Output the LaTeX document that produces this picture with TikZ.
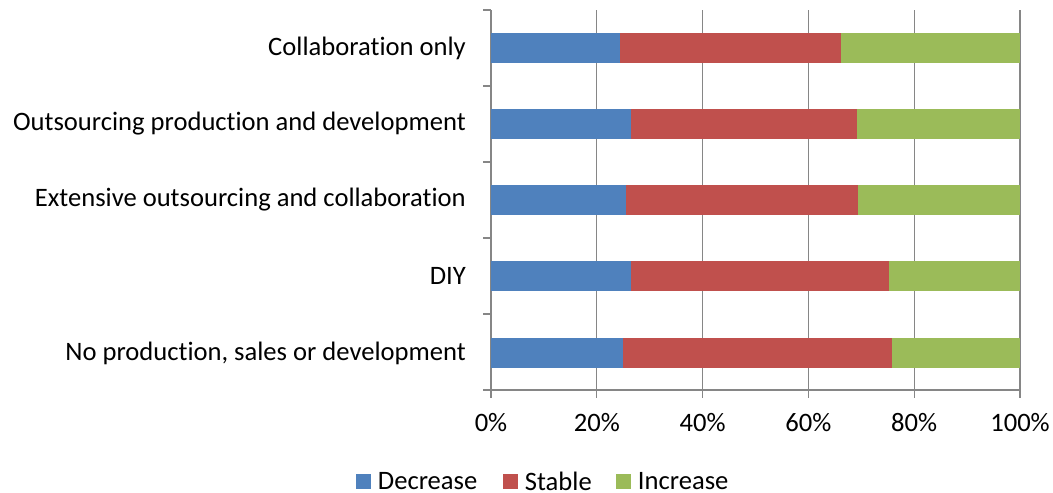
\documentclass[tikz,border=0pt]{standalone}
\usepackage{fontspec}
\setmainfont{Carlito}[Ligatures=NoCommon]
\usetikzlibrary{positioning}
\definecolor{decr}{RGB}{79,129,189}
\definecolor{stab}{RGB}{192,80,77}
\definecolor{incr}{RGB}{155,187,89}
\definecolor{axisgray}{RGB}{134,134,134}
\tikzset{
  gridline/.style = {draw=axisgray, line width=1.3pt},
  catlabel/.style = {anchor=east, inner sep=0pt, font=\fontsize{26.6}{30}\selectfont},
  ticklabel/.style = {anchor=north, inner sep=0pt, font=\fontsize{26.6}{30}\selectfont},
  legendkey/.style = {minimum size=15pt, inner sep=0pt},
  legendtext/.style = {right=7pt of #1, inner sep=0pt, font=\fontsize{26.6}{30}\selectfont}
}
\newcommand{\pct}[1]{491+5.29*#1}

\begin{document}
\begin{tikzpicture}[x=1pt,y=-1pt]
  \useasboundingbox (0,0) rectangle (1053,493);
  % gridlines and ticks
  \foreach \p in {20,40,60,80,100}
    \draw[gridline] ({\pct{\p}},10) -- ({\pct{\p}},398);
  \draw[gridline] (491,10) -- (491,398);
  \draw[gridline] (483,390) -- (1020,390);
  \foreach \y in {10,86,162,238,314}
    \draw[gridline] (483,\y) -- (491,\y);
  % bars
  \foreach \n/\y/\d/\s/\txt in {
      collab/48/24.4/66.2/{Collaboration only},
      outsrc/124/26.5/69.2/{Outsourcing production and development},
      extens/200/25.5/69.4/{Extensive outsourcing and collaboration},
      diy/276/26.5/75.2/{DIY},
      noprod/353/25.0/75.8/{No production, sales or development}} {
    \fill[decr] (491,\y-15) rectangle ({\pct{\d}},\y+15);
    \fill[stab] ({\pct{\d}},\y-15) rectangle ({\pct{\s}},\y+15);
    \fill[incr] ({\pct{\s}},\y-15) rectangle (1020,\y+15);
    \node[catlabel] (\n) at (466,\y) {\txt};
  }
  % axis labels
  \foreach \p in {0,20,40,60,80,100}
    \node[ticklabel] (tick\p) at ({\pct{\p}},413) {\p\%};
  % legend
  \node[legendkey, fill=decr] (kdecr) at (363,481) {};
  \node[legendtext=kdecr] (ldecr) {Decrease};
  \node[legendkey, fill=stab] (kstab) at (510,481) {};
  \node[legendtext=kstab] (lstab) {Stable};
  \node[legendkey, fill=incr] (kincr) at (623,481) {};
  \node[legendtext=kincr] (lincr) {Increase};
\end{tikzpicture}
\end{document}
